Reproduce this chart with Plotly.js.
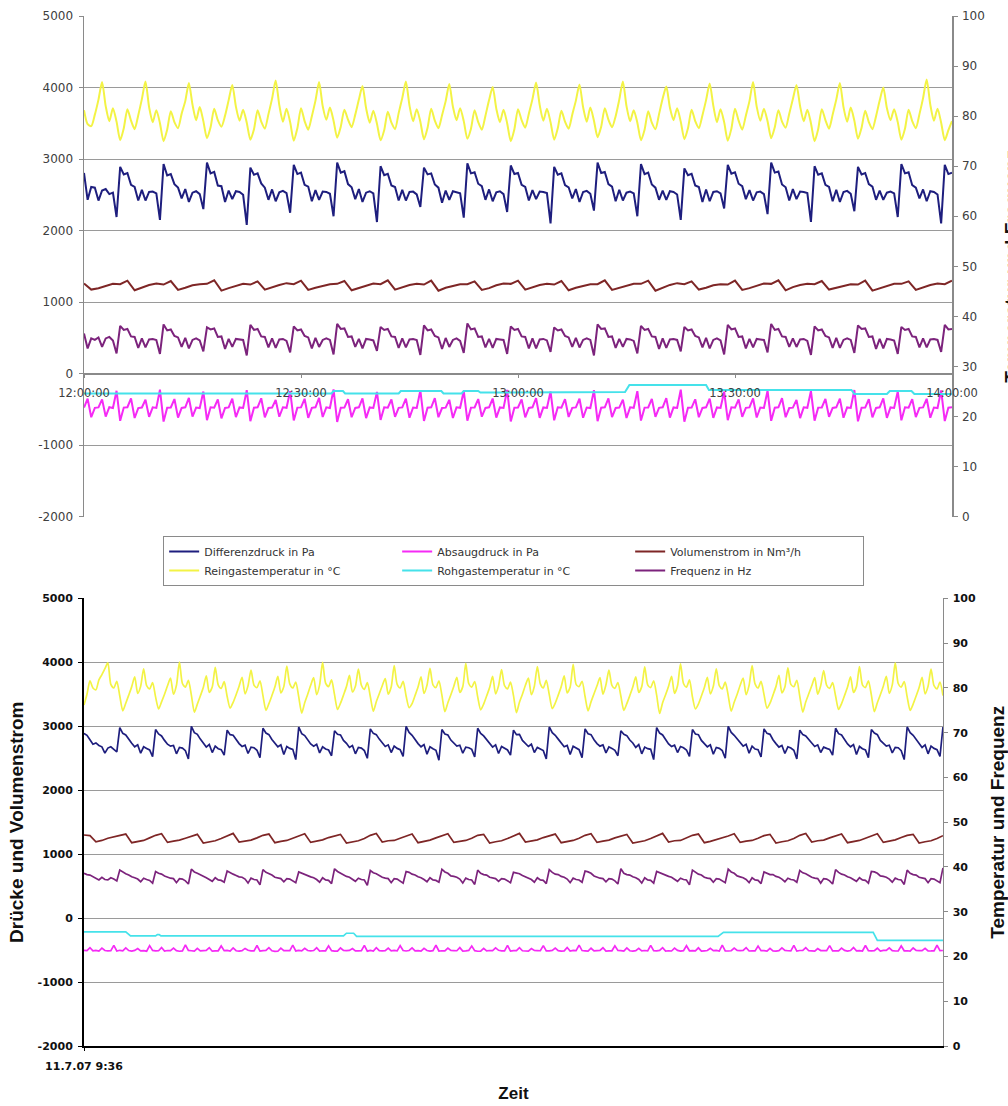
<!DOCTYPE html>
<html>
<head>
<meta charset="utf-8">
<script src="https://cdn.plot.ly/plotly-3.0.1.min.js"></script>
<style>html,body{margin:0;padding:0;background:#fff;}#chart{width:1008px;height:1106px;}</style>
</head>
<body>
<div id="chart"></div>
<script>
// ---------------- DATA ----------------
// Legend labels
const seriesNames = ['Differenzdruck in Pa','Absaugdruck in Pa','Volumenstrom in Nm³/h','Reingastemperatur in °C','Rohgastemperatur in °C','Frequenz in Hz'];
const topTicks = ['2007-07-11 12:00:00','2007-07-11 12:30:00','2007-07-11 13:00:00','2007-07-11 13:30:00','2007-07-11 14:00:00'];
const botTickVals = ['2007-07-11 09:36:00'];
const botTickText = ['11.7.07 9:36'];
const leftTickVals = [-2000,-1000,0,1000,2000,3000,4000,5000];
const leftTickText = ['-2000','-1000','0','1000','2000','3000','4000','5000'];
const rightTitle = 'Temperatur und Frequenz';
const leftTitle = 'Drücke und Volumenstrom';
const xTitle = 'Zeit';

// TOP panel: 12:00 - 14:00, 30 s samples
const topRein = [
81.2,78.4,78.0,80.3,83.3,
86.8,82.0,79.0,81.6,78.9,75.2,77.6,81.4,79.1,77.4,80.2,83.4,
86.9,81.8,78.8,81.2,78.6,75.0,77.3,81.0,78.8,77.6,80.5,83.0,
86.6,82.3,79.2,81.8,79.0,75.6,77.8,81.5,79.2,77.9,80.1,83.2,
86.2,81.9,79.1,81.3,78.7,75.3,77.4,81.2,78.9,77.5,80.4,83.5,
87.1,82.2,78.9,81.5,78.8,75.1,77.6,81.6,79.0,77.3,80.0,83.1,
86.8,82.0,79.3,81.7,79.1,75.7,77.9,81.3,79.3,77.8,80.3,83.3,
86.0,81.6,78.7,81.1,78.5,75.2,77.2,80.9,78.7,77.4,80.6,83.6,
86.9,82.1,79.0,81.4,78.9,75.4,77.7,81.5,79.1,77.6,80.2,83.0,
86.4,81.9,79.2,81.6,79.0,75.5,77.5,81.2,78.8,77.3,80.1,83.2,
85.8,81.5,78.8,81.3,78.6,75.0,77.4,81.4,79.2,77.7,80.5,83.4,
86.7,82.2,79.1,81.5,78.8,75.3,77.6,81.1,78.9,77.5,80.3,83.1,
86.3,81.8,78.9,81.7,79.1,75.8,77.9,81.6,79.3,77.8,80.0,83.3,
86.9,82.0,79.0,81.2,78.7,75.2,77.3,81.0,78.7,77.4,80.4,83.5,
85.9,81.7,79.2,81.6,78.9,75.4,77.6,81.3,79.0,77.6,80.2,83.2,
86.5,82.1,78.8,81.4,78.8,75.1,77.5,81.5,79.1,77.3,80.1,83.0,
86.8,81.9,79.1,81.5,79.0,75.6,77.8,81.2,78.9,77.7,80.5,83.4,
86.2,82.0,79.0,81.3,78.6,75.0,77.4,81.4,79.2,77.5,80.3,83.3,
86.6,81.8,78.9,81.7,79.1,75.5,77.7,81.1,78.8,77.4,80.0,83.1,
85.7,81.6,79.2,81.4,78.8,75.3,77.5,81.3,79.0,77.6,80.4,83.6,
87.3,82.3,79.1,81.5,78.7,75.2,77.2,79.0];

const topDiff = [
2805,2430,2610,2600,2420,2560,2580,2510,2530,2190,
2890,2785,2805,2640,2610,2420,2570,2420,2540,2545,2520,2150,
2930,2770,2790,2650,2600,2450,2580,2400,2530,2550,2510,2300,
2950,2800,2820,2630,2620,2400,2560,2440,2550,2540,2500,2080,
2880,2780,2800,2660,2600,2430,2575,2410,2535,2555,2525,2250,
2920,2790,2810,2640,2615,2410,2565,2430,2545,2540,2515,2200,
2950,2810,2830,2650,2605,2440,2580,2400,2530,2550,2520,2120,
2900,2775,2795,2630,2610,2420,2570,2420,2540,2545,2505,2330,
2880,2785,2800,2645,2600,2390,2560,2430,2550,2535,2520,2180,
2940,2800,2815,2655,2620,2430,2575,2410,2535,2550,2510,2260,
2910,2790,2805,2640,2610,2420,2565,2440,2545,2540,2525,2100,
2890,2780,2800,2635,2605,2450,2580,2400,2540,2555,2515,2280,
2950,2805,2820,2650,2615,2410,2570,2420,2530,2545,2520,2200,
2930,2790,2810,2645,2600,2430,2560,2430,2550,2540,2505,2150,
2870,2775,2795,2630,2610,2400,2575,2410,2540,2550,2520,2310,
2920,2795,2815,2655,2620,2440,2565,2420,2535,2545,2510,2230,
2950,2810,2825,2645,2605,2420,2580,2440,2545,2540,2525,2120,
2900,2780,2800,2640,2610,2410,2570,2400,2540,2555,2515,2270,
2890,2785,2805,2650,2615,2430,2560,2430,2530,2545,2520,2190,
2930,2800,2815,2635,2600,2450,2575,2410,2550,2540,2505,2100,
2920,2790,2810];

const topFreq = [
36.6,33.6,35.6,35.3,35.8,33.9,35.6,35.9,35.2,32.6,
38.1,37.3,37.5,36.0,35.9,33.7,35.6,33.8,35.4,35.5,35.3,32.5,
38.4,37.2,37.4,36.1,35.8,33.9,35.7,33.6,35.3,35.6,35.2,33.0,
37.8,37.4,37.6,35.9,36.0,33.5,35.5,33.9,35.5,35.4,35.3,32.2,
38.3,37.3,37.5,36.0,35.9,33.8,35.6,33.7,35.4,35.5,35.1,32.8,
38.0,37.2,37.4,36.1,35.8,33.6,35.7,33.9,35.3,35.6,35.3,32.4,
38.5,37.5,37.6,35.9,36.0,33.9,35.5,33.6,35.5,35.4,35.2,33.1,
37.9,37.3,37.5,36.0,35.9,33.7,35.6,33.8,35.4,35.5,35.3,32.3,
38.2,37.2,37.4,36.1,35.8,33.5,35.7,33.9,35.3,35.6,35.1,32.7,
38.6,37.4,37.6,35.9,36.0,33.8,35.5,33.7,35.5,35.4,35.3,32.5,
38.0,37.3,37.5,36.0,35.9,33.6,35.6,33.6,35.4,35.5,35.2,32.9,
37.8,37.2,37.4,36.1,35.8,33.9,35.7,33.8,35.3,35.6,35.3,32.2,
38.4,37.5,37.6,35.9,36.0,33.7,35.5,33.9,35.5,35.4,35.1,32.6,
38.1,37.3,37.5,36.0,35.9,33.5,35.6,33.7,35.4,35.5,35.3,33.0,
37.9,37.2,37.4,36.1,35.8,33.8,35.7,33.6,35.3,35.6,35.2,32.4,
38.3,37.4,37.6,35.9,36.0,33.6,35.5,33.8,35.5,35.4,35.3,32.8,
38.5,37.3,37.5,36.0,35.9,33.9,35.6,33.9,35.4,35.5,35.1,32.3,
38.0,37.2,37.4,36.1,35.8,33.7,35.7,33.7,35.3,35.6,35.3,32.7,
38.2,37.5,37.6,35.9,36.0,33.5,35.5,33.6,35.5,35.4,35.2,32.5,
37.9,37.3,37.5,36.0,35.9,33.8,35.6,33.8,35.4,35.5,35.3,32.9,
38.3,37.4,37.5];

const topAbsaug = [
-475,
-350,-610,-478,-472, -360,-600,-470,-480, -240,-660,-475,-470,
-345,-620,-482,-474, -365,-605,-471,-479, -225,-670,-476,-473,
-355,-615,-480,-470, -340,-600,-474,-482, -250,-650,-470,-476,
-360,-625,-479,-472, -350,-608,-473,-480, -230,-665,-477,-471,
-345,-612,-481,-475, -368,-603,-470,-478, -245,-655,-475,-472,
-352,-618,-479,-470, -340,-606,-472,-481, -220,-675,-476,-474,
-358,-610,-480,-471, -347,-622,-473,-479, -255,-648,-470,-477,
-362,-604,-478,-472, -350,-616,-474,-480, -235,-662,-477,-470,
-343,-609,-481,-476, -366,-620,-471,-478, -242,-658,-475,-473,
-355,-602,-479,-471, -348,-614,-472,-480, -228,-668,-476,-474,
-360,-611,-480,-470, -344,-619,-473,-479, -250,-652,-470,-476,
-357,-606,-478,-472, -351,-617,-474,-481, -232,-664,-477,-471,
-346,-608,-481,-475, -364,-621,-471,-478, -246,-656,-475,-473,
-353,-603,-479,-470, -342,-615,-472,-480, -224,-672,-476,-474,
-359,-610,-480,-471, -349,-618,-473,-479, -252,-650,-470,-477,
-361,-605,-478,-472, -347,-613,-474,-480, -238,-660,-477,-470,
-344,-609,-481,-476, -367,-622,-471,-478, -243,-657,-475,-473,
-354,-604,-479,-471, -350,-616,-472,-480, -229,-666,-476,-474,
-358,-611,-480,-470, -345,-619,-473,-479, -248,-653,-470,-476,
-356,-607,-478,-472, -352,-617,-474,-481, -234,-663,-477,-471];

// Volumenstrom top, 1 min samples
const topVol = [1260,
1175,1195,1230,1255,1250,1300, 1165,1205,1240,1260,1245,1295, 1170,1200,1235,1250,1255,1305,
1160,1195,1225,1255,1245,1290, 1175,1210,1240,1265,1250,1300, 1170,1200,1230,1250,1255,1295,
1165,1195,1235,1260,1250,1305, 1175,1205,1240,1255,1245,1300, 1160,1200,1230,1250,1250,1290,
1170,1195,1235,1260,1255,1300, 1175,1210,1240,1255,1245,1295, 1165,1200,1230,1250,1250,1305,
1170,1195,1225,1255,1255,1300, 1160,1205,1240,1265,1250,1290, 1175,1200,1235,1250,1245,1300,
1170,1195,1230,1260,1255,1305, 1165,1210,1240,1255,1250,1295, 1175,1200,1235,1250,1245,1300,
1160,1195,1230,1255,1255,1290, 1170,1205,1240,1260,1250,1300];

// Rohgastemperatur top (minutes after 12:00, °C)
const topRohMin = [0,34.2,34.5,35.8,36.1,43.5,43.8,49.4,49.7,52.2,52.5,54.5,54.8,64.2,64.5,74.8,75.4,86.0,86.4,106.1,106.5,111.0,111.4,114.4,114.8,120];
const topRohVal = [24.6,24.6,25.1,25.1,24.6,24.6,25.1,25.1,24.6,24.6,25.1,25.1,24.8,24.8,24.9,24.9,26.3,26.3,25.3,25.3,24.5,24.5,25.1,25.1,24.5,24.5];

// BOTTOM panel: from 11.7.07 9:36, 30 s samples
const botRein = [
76.2,78.6,81.6,80.0,79.6,81.8,83.0,84.3,
85.6,80.8,80.0,81.5,78.2,74.9,76.6,78.4,80.3,82.5,78.8,80.4,
84.3,80.5,79.8,81.2,78.0,75.3,76.9,78.6,80.5,82.2,78.6,80.6,
85.8,81.0,80.2,81.7,78.4,74.6,76.4,78.2,80.1,82.7,79.0,80.2,
84.6,80.7,79.9,81.4,78.1,75.5,76.8,78.5,80.4,82.4,78.7,80.5,
84.0,80.6,80.1,81.6,78.3,75.0,76.5,78.3,80.2,82.6,78.9,80.3,
84.9,80.9,80.0,81.3,78.0,74.4,76.7,78.6,80.6,82.3,78.5,80.7,
85.7,81.1,80.3,81.8,78.5,75.2,76.6,78.4,80.3,82.8,79.1,80.4,
84.2,80.6,79.7,81.2,78.1,74.8,76.9,78.7,80.5,82.1,78.6,80.2,
85.0,80.8,80.0,81.5,78.2,75.6,76.5,78.3,80.2,82.5,78.8,80.6,
84.4,80.7,80.1,81.6,78.4,74.7,76.7,78.5,80.4,82.4,79.0,80.3,
85.5,81.0,80.2,81.4,78.0,75.1,76.4,78.2,80.1,82.6,78.7,80.5,
84.1,80.5,79.8,81.3,78.3,74.5,76.8,78.6,80.6,82.2,78.5,80.4,
84.8,80.9,80.0,81.7,78.5,75.4,76.6,78.4,80.3,82.7,78.9,80.2,
85.3,80.8,80.3,81.5,78.1,74.9,76.9,78.7,80.5,82.3,78.6,80.7,
84.0,80.6,79.9,81.2,78.2,75.0,76.5,78.3,80.2,82.5,79.0,80.3,
84.7,80.7,80.1,81.6,78.4,74.3,76.7,78.5,80.4,82.6,78.8,80.5,
85.4,81.0,80.2,81.8,78.0,75.3,76.4,78.2,80.1,82.4,78.7,80.4,
84.3,80.5,79.8,81.3,78.3,74.8,76.8,78.6,80.6,82.2,78.5,80.6,
85.0,80.9,80.0,81.5,78.5,75.5,76.6,78.4,80.3,82.8,78.9,80.2,
84.5,80.8,80.3,81.7,78.1,74.6,76.9,78.7,80.5,82.3,78.6,80.5,
83.9,80.6,79.9,81.2,78.2,75.2,76.5,78.3,80.2,82.5,79.0,80.3,
84.8,80.7,80.1,81.6,78.4,74.7,76.7,78.5,80.4,82.6,78.8,80.7,
85.6,81.0,80.2,81.4,78.0,75.0,76.4,78.2,80.1,82.4,78.7,80.4,
84.2,80.5,79.8,81.3,78.3];

const botDiff = [
2890,2860,2790,2720,2740,2700,2680,2580,2660,2680,2640,2600,
2980,2890,2865,2790,2735,2680,2710,2580,2680,2655,2630,2525,
2950,2880,2850,2780,2720,2690,2700,2570,2670,2660,2620,2490,
3000,2900,2875,2800,2745,2675,2715,2590,2690,2650,2635,2550,
2940,2870,2860,2785,2730,2685,2705,2575,2675,2665,2625,2510,
2970,2895,2870,2795,2740,2680,2710,2560,2685,2655,2640,2480,
2990,2885,2855,2790,2725,2690,2720,2585,2680,2645,2630,2540,
2930,2875,2865,2780,2735,2670,2700,2570,2670,2660,2620,2500,
2960,2890,2870,2800,2745,2685,2710,2590,2690,2655,2635,2530,
3000,2905,2860,2790,2730,2680,2715,2565,2680,2650,2625,2470,
2950,2880,2865,2785,2740,2690,2705,2580,2675,2665,2640,2520,
2970,2890,2850,2795,2725,2675,2710,2575,2685,2655,2630,2550,
2940,2870,2875,2780,2735,2685,2720,2590,2670,2645,2620,2490,
2990,2900,2860,2800,2745,2680,2700,2560,2690,2660,2635,2510,
2960,2885,2870,2790,2730,2690,2710,2585,2680,2655,2625,2540,
2930,2875,2855,2785,2740,2670,2715,2570,2675,2650,2640,2480,
2980,2895,2865,2795,2725,2685,2705,2590,2685,2665,2630,2530,
2950,2880,2870,2780,2735,2680,2710,2565,2670,2655,2620,2500,
3000,2905,2860,2800,2745,2690,2720,2580,2690,2645,2635,2520,
2960,2890,2875,2790,2730,2675,2700,2575,2680,2660,2625,2490,
2940,2870,2850,2785,2740,2685,2710,2590,2675,2655,2640,2550,
2970,2885,2865,2795,2725,2680,2715,2560,2685,2650,2630,2510,
2950,2895,2870,2780,2735,2690,2705,2585,2670,2665,2620,2480,
2990,2900,2860,2800,2745,2670,2710,2570,2690,2655,2635,2530,
2990];

const botFreq = [
38.6,38.3,38.2,37.8,37.5,37.1,37.7,37.2,37.1,37.6,37.3,36.9,
39.3,38.8,38.5,38.2,37.8,37.6,37.3,36.7,37.5,37.2,37.0,36.4,
39.0,38.6,38.4,38.0,37.7,37.5,37.4,36.5,37.4,37.3,36.9,36.2,
39.5,38.9,38.6,38.3,37.9,37.6,37.2,36.8,37.6,37.1,37.0,36.6,
39.1,38.7,38.4,38.1,37.8,37.7,37.3,36.4,37.5,37.2,37.1,36.0,
39.4,38.8,38.5,38.2,37.7,37.5,37.4,36.7,37.4,37.3,36.9,36.5,
38.9,38.6,38.3,38.0,37.8,37.6,37.2,36.6,37.6,37.1,37.0,36.3,
39.6,39.0,38.6,38.3,37.9,37.7,37.3,36.8,37.5,37.2,37.1,35.9,
39.2,38.7,38.5,38.1,37.7,37.5,37.4,36.5,37.4,37.3,36.9,36.4,
39.0,38.8,38.4,38.2,37.8,37.6,37.2,36.7,37.6,37.1,37.0,36.6,
39.5,38.9,38.6,38.0,37.9,37.7,37.3,36.4,37.5,37.2,37.1,36.1,
39.3,38.6,38.3,38.2,37.7,37.5,37.4,36.8,37.4,37.3,36.9,36.5,
38.8,38.7,38.5,38.1,37.8,37.6,37.2,36.6,37.6,37.1,37.0,36.3,
39.4,38.8,38.4,38.3,37.9,37.7,37.3,36.5,37.5,37.2,37.1,36.6,
39.1,38.9,38.6,38.0,37.7,37.5,37.4,36.7,37.4,37.3,36.9,36.2,
39.6,38.6,38.3,38.2,37.8,37.6,37.2,36.4,37.6,37.1,37.0,36.4,
39.0,38.7,38.5,38.1,37.9,37.7,37.3,36.8,37.5,37.2,37.1,36.0,
39.3,38.8,38.4,38.2,37.7,37.5,37.4,36.6,37.4,37.3,36.9,36.5,
39.5,38.9,38.6,38.0,37.8,37.6,37.2,36.5,37.6,37.1,37.0,36.3,
38.9,38.6,38.3,38.3,37.9,37.7,37.3,36.7,37.5,37.2,37.1,36.6,
39.2,38.7,38.5,38.1,37.7,37.5,37.4,36.4,37.4,37.3,36.9,36.2,
39.4,38.8,38.4,38.2,37.8,37.6,37.2,36.8,37.6,37.1,37.0,36.4,
39.0,38.9,38.6,38.0,37.9,37.7,37.3,36.6,37.5,37.2,37.1,36.1,
39.3,38.6,38.3,38.2,37.7,37.5,37.4,36.5,37.4,37.3,36.9,36.5,
39.8];

const botAbsaug = [
-505,
-508,-462,-512,-505, -515,-470,-506,-511, -509,-425,-514,-503,
-512,-465,-507,-516, -505,-475,-513,-509, -517,-430,-504,-512,
-510,-460,-515,-506, -507,-468,-509,-518, -513,-420,-505,-510,
-516,-472,-512,-507, -506,-463,-517,-513, -511,-435,-508,-504,
-514,-466,-510,-515, -508,-474,-503,-511, -512,-428,-516,-507,
-505,-461,-511,-519, -518,-469,-507,-509, -509,-422,-513,-505,
-513,-471,-506,-512, -507,-464,-515,-510, -511,-433,-509,-516,
-516,-467,-504,-508, -504,-476,-512,-513, -510,-426,-517,-506,
-514,-462,-508,-511, -509,-470,-513,-505, -512,-431,-506,-514,
-506,-465,-511,-509, -517,-473,-507,-515, -508,-424,-514,-510,
-513,-468,-505,-507, -510,-461,-516,-512, -505,-436,-509,-518,
-515,-472,-512,-506, -508,-466,-503,-511, -512,-427,-515,-509,
-507,-463,-510,-514, -516,-475,-506,-508, -510,-429,-513,-512,
-504,-469,-508,-517, -513,-460,-514,-505, -509,-423,-507,-511,
-515,-471,-512,-509, -506,-464,-516,-513, -511,-434,-505,-507,
-517,-467,-510,-515, -508,-474,-513,-506, -512,-426,-508,-512,
-505,-462,-515,-510, -514,-470,-504,-516, -509,-432,-511,-508,
-513,-465,-517,-511, -507,-473,-509,-505, -516,-421,-512,-514,
-510,-468,-506,-509, -504,-461,-514,-512, -512,-437,-508,-507,
-515,-472,-511,-515, -508,-466,-505,-510, -511,-425,-516,-506,
-506,-463,-510,-513, -517,-475,-507,-509, -509,-430,-513,-511,
-513,-469,-504,-516, -507,-460,-512,-508, -514,-428,-509,-512,
-510,-471,-515,-505, -505,-464,-508,-514, -512,-435,-511,-510,
-516,-467,-506,-507, -508,-473,-514,-513, -511,-424,-509,-506];

// Volumenstrom bottom, 1 min samples
const botVol = [1300,1290,
1195,1215,1250,1275,1300,1315, 1180,1200,1215,1255,1295,1320, 1185,1205,1220,1250,1285,1310,
1175,1195,1210,1245,1290,1325, 1190,1210,1220,1255,1295,1315, 1180,1200,1215,1250,1285,1320,
1185,1205,1225,1260,1290,1310, 1175,1195,1210,1245,1295,1325, 1190,1210,1215,1250,1285,1315,
1180,1200,1220,1255,1290,1320, 1185,1205,1215,1250,1295,1310, 1175,1195,1210,1245,1285,1325,
1190,1210,1225,1260,1290,1315, 1180,1200,1215,1250,1295,1320, 1185,1205,1220,1255,1285,1310,
1175,1195,1210,1245,1290,1325, 1190,1210,1215,1250,1295,1315, 1180,1200,1225,1260,1285,1320,
1185,1205,1215,1250,1290,1310, 1175,1195,1210,1245,1295,1325, 1190,1210,1220,1255,1285,1315,
1180,1200,1215,1250,1290,1320, 1185,1205,1225,1260,1295,1310,
1175,1195,1210,1245,1290];

// Rohgastemperatur bottom (minutes after 9:36, °C)
const botRohMin = [0,7.0,7.8,12.0,12.3,12.6,12.9,43.5,44.0,45.2,45.7,106.3,107.2,132.3,133.0,144];
const botRohVal = [25.5,25.5,24.6,24.6,24.9,24.9,24.6,24.6,25.2,25.2,24.5,24.5,25.4,25.4,23.6,23.6];

// ---------------- BUILD ----------------
const T0_TOP = Date.UTC(2007, 6, 11, 12, 0, 0);
const T0_BOT = Date.UTC(2007, 6, 11, 9, 36, 0);
function timeAxis(t0, n, stepSec) { const a = []; for (let i = 0; i < n; i++) a.push(t0 + i * stepSec * 1000); return a; }
function fromMinutes(t0, mins) { return mins.map(m => t0 + m * 60000); }

const C = { diff:'#1e1e7e', abs:'#f52af5', vol:'#7e2626', rein:'#f3f345', roh:'#45e2ea', freq:'#7c237c' };
const wTop = 2, wBot = 1.7;

function tr(x, y, name, color, xa, ya, w, show, spline) {
  return { type:'scatter', mode:'lines', x:x, y:y, name:name, xaxis:xa, yaxis:ya, showlegend:show,
    line:{ color:color, width:w, shape: spline ? 'spline' : 'linear', smoothing: 0.7 }, hoverinfo:'skip' };
}

const data = [
  tr(timeAxis(T0_TOP, topDiff.length, 30), topDiff, seriesNames[0], C.diff, 'x', 'y', wTop, true),
  tr(timeAxis(T0_TOP, topAbsaug.length, 30), topAbsaug, seriesNames[1], C.abs, 'x', 'y', wTop, true),
  tr(timeAxis(T0_TOP, topVol.length, 60), topVol, seriesNames[2], C.vol, 'x', 'y', wTop, true),
  tr(timeAxis(T0_TOP, topRein.length, 30), topRein, seriesNames[3], C.rein, 'x', 'y2', wTop, true, true),
  tr(fromMinutes(T0_TOP, topRohMin), topRohVal, seriesNames[4], C.roh, 'x', 'y2', wTop, true),
  tr(timeAxis(T0_TOP, topFreq.length, 30), topFreq, seriesNames[5], C.freq, 'x', 'y2', wTop, true),

  tr(timeAxis(T0_BOT, botDiff.length, 30), botDiff, seriesNames[0], C.diff, 'x2', 'y3', wBot, false),
  tr(timeAxis(T0_BOT, botAbsaug.length, 30), botAbsaug, seriesNames[1], C.abs, 'x2', 'y3', wBot, false),
  tr(timeAxis(T0_BOT, botVol.length, 60), botVol, seriesNames[2], C.vol, 'x2', 'y3', wBot, false),
  tr(timeAxis(T0_BOT, botRein.length, 30), botRein, seriesNames[3], C.rein, 'x2', 'y4', wBot, false, true),
  tr(fromMinutes(T0_BOT, botRohMin), botRohVal, seriesNames[4], C.roh, 'x2', 'y4', wBot, false),
  tr(timeAxis(T0_BOT, botFreq.length, 30), botFreq, seriesNames[5], C.freq, 'x2', 'y4', wBot, false)
];

const topTickFont = { family:'DejaVu Sans, Liberation Sans, Arial', size:12, color:'#404040' };
const botTickFont = { family:'DejaVu Sans, Liberation Sans, Arial', size:11, color:'#111', weight:'bold' };
const titleFont = { family:'Liberation Sans, Arial', size:19, color:'#111', weight:'bold' };
const GRID = '#9a9a9a', GREY = '#8a8a8a';

const layout = {
  width:1008, height:1106,
  margin:{ l:84, r:56, t:16, b:60 },
  paper_bgcolor:'#fff', plot_bgcolor:'rgba(0,0,0,0)',
  showlegend:true,
  legend:{ orientation:'h', x:0.495, xanchor:'center', y:0.4951, yanchor:'top',
    bgcolor:'#fff', bordercolor:GREY, borderwidth:1, entrywidth:188, itemwidth:30,
    font:{ family:'DejaVu Sans, Liberation Sans, Arial', size:11, color:'#333' } },
  // top panel right-axis title, partly cut off at the page edge as in the original
  annotations:[{ xref:'paper', yref:'paper', x:1.0685, y:0.757, xanchor:'center', yanchor:'middle',
    text:rightTitle, textangle:-90, showarrow:false, font:titleFont }],
  xaxis:{ type:'date', domain:[0,1], anchor:'free', position:0.6531,
    range:['2007-07-11 12:00:00','2007-07-11 14:00:00'],
    tickmode:'array', tickvals:topTicks, tickformat:'%H:%M:%S',
    showline:true, linecolor:GREY, linewidth:1.5, ticks:'outside', ticklen:3, tickcolor:GREY,
    showgrid:false, zeroline:false, ticklabelstandoff:5,
    tickfont:Object.assign({}, topTickFont, { size:11.5 }) },
  yaxis:{ domain:[0.5139,1], anchor:'x', range:[-2000,5000],
    tickmode:'array', tickvals:leftTickVals, ticktext:leftTickText,
    showline:true, linecolor:GREY, linewidth:1.5, ticks:'outside', ticklen:4, tickcolor:GREY,
    showgrid:true, gridcolor:GRID, gridwidth:1, zeroline:false, ticklabelstandoff:3,
    tickfont:topTickFont },
  yaxis2:{ overlaying:'y', side:'right', anchor:'x', range:[0,100], dtick:10, tick0:0,
    showline:true, linecolor:GREY, linewidth:1.5, ticks:'outside', ticklen:4, tickcolor:GREY,
    showgrid:false, zeroline:false, ticklabelstandoff:2, tickfont:topTickFont },
  xaxis2:{ type:'date', domain:[0,0.9896], anchor:'y3',
    range:['2007-07-11 09:36:00','2007-07-11 12:00:00'],
    tickmode:'array', tickvals:botTickVals, ticktext:botTickText,
    showline:true, linecolor:'#000', linewidth:2, ticks:'outside', ticklen:3, tickcolor:'#000',
    showgrid:false, zeroline:false, ticklabelstandoff:6, tickfont:botTickFont,
    title:{ text:xTitle, font:{ family:'Liberation Sans, Arial', size:17, color:'#111', weight:'bold' }, standoff:15 } },
  yaxis3:{ domain:[0,0.4345], anchor:'x2', range:[-2000,5000],
    tickmode:'array', tickvals:leftTickVals, ticktext:leftTickText,
    showline:true, linecolor:'#000', linewidth:2, ticks:'outside', ticklen:4, tickcolor:'#000',
    showgrid:true, gridcolor:GRID, gridwidth:1, zeroline:false, ticklabelstandoff:3,
    tickfont:botTickFont,
    title:{ text:leftTitle, font:titleFont, standoff:9 } },
  yaxis4:{ overlaying:'y3', side:'right', anchor:'x2', range:[0,100], dtick:10, tick0:0,
    showline:true, linecolor:GREY, linewidth:1.5, ticks:'outside', ticklen:4, tickcolor:GREY,
    showgrid:false, zeroline:false, ticklabelstandoff:2, tickfont:botTickFont,
    title:{ text:rightTitle, font:titleFont, standoff:17 } }
};

Plotly.newPlot('chart', data, layout, { staticPlot:true, displayModeBar:false });
</script>
</body>
</html>
